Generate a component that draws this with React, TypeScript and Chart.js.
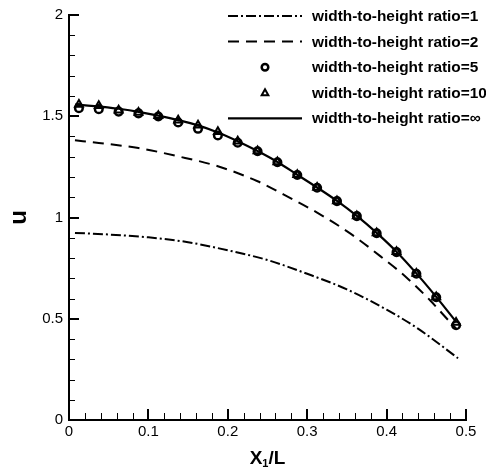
import React, { useEffect, useRef } from 'react';
import { Chart, registerables } from 'chart.js';

Chart.register(...registerables);

const FONT = '"Liberation Sans", Arial, Helvetica, sans-serif';

// Axis ticks
const xMajorStep = 0.1;
const xMinorStep = 0.02;
const yMajorStep = 0.5;
const yMinorStep = 0.1;
const xRange = [0, 0.5];
const yRange = [0, 2];

// Legend labels
const seriesLabels = [
  'width-to-height ratio=1',
  'width-to-height ratio=2',
  'width-to-height ratio=5',
  'width-to-height ratio=10',
  'width-to-height ratio=\u221E',
];

// ratio = 1 (dash-dot line)
const x1 = [0.0075, 0.05, 0.1, 0.15, 0.2, 0.25, 0.3, 0.35, 0.4, 0.44, 0.49];
const ratio1 = [0.924, 0.916, 0.902, 0.878, 0.838, 0.79, 0.722, 0.645, 0.545, 0.45, 0.305];

// ratio = 2 (dashed line)
const x2 = [0.0075, 0.0375, 0.0875, 0.1375, 0.1875, 0.2375, 0.27, 0.3125, 0.355, 0.395, 0.425, 0.455, 0.48, 0.4875];
const ratio2 = [1.381, 1.368, 1.343, 1.302, 1.253, 1.179, 1.114, 1.024, 0.919, 0.8, 0.704, 0.59, 0.483, 0.452];

// ratio = 5 (circles) and ratio = 10 (triangles)
const xMarkers = [0.0125, 0.0375, 0.0625, 0.0875, 0.1125, 0.1375, 0.1625, 0.1875, 0.2125, 0.2375,
  0.2625, 0.2875, 0.3125, 0.3375, 0.3625, 0.3875, 0.4125, 0.4375, 0.4625, 0.4875];
const ratio5 = [1.54, 1.535, 1.523, 1.514, 1.499, 1.469, 1.438, 1.405, 1.369, 1.327,
  1.273, 1.21, 1.147, 1.081, 1.007, 0.922, 0.829, 0.722, 0.606, 0.468];
const ratio10 = [1.558, 1.552, 1.53, 1.518, 1.502, 1.48, 1.456, 1.423, 1.377, 1.329,
  1.274, 1.211, 1.148, 1.082, 1.008, 0.924, 0.831, 0.724, 0.608, 0.482];

// ratio = infinity (solid line)
const xInf = [0.0075, 0.0125, 0.0375, 0.0625, 0.0875, 0.1125, 0.1375, 0.1625, 0.1875, 0.2125, 0.2375,
  0.2625, 0.2875, 0.3125, 0.3375, 0.3625, 0.3875, 0.4125, 0.4375, 0.4625, 0.4875];
const ratioInf = [1.558, 1.556, 1.549, 1.537, 1.522, 1.503, 1.481, 1.455, 1.42, 1.377, 1.328,
  1.274, 1.211, 1.148, 1.082, 1.008, 0.924, 0.831, 0.724, 0.608, 0.485];

const pts = (xs: number[], ys: number[]) => xs.map((x, i) => ({ x, y: ys[i] }));

const minorTicksPlugin = {
  id: 'minorTicks',
  afterDraw(chart: any) {
    const { ctx, chartArea } = chart;
    const xs = chart.scales.x;
    const ys = chart.scales.y;
    ctx.save();
    ctx.strokeStyle = '#000';
    const nY = Math.round((yRange[1] - yRange[0]) / yMinorStep);
    const perY = Math.round(yMajorStep / yMinorStep);
    for (let i = 0; i <= nY; i++) {
      const major = i % perY === 0;
      const py = Math.round(ys.getPixelForValue(yRange[0] + i * yMinorStep)) + (major ? 0 : 0.5);
      ctx.lineWidth = major ? 2 : 1;
      ctx.beginPath();
      ctx.moveTo(chartArea.left, py);
      ctx.lineTo(chartArea.left + (major ? 10 : 6), py);
      ctx.stroke();
    }
    const nX = Math.round((xRange[1] - xRange[0]) / xMinorStep);
    const perX = Math.round(xMajorStep / xMinorStep);
    for (let i = 0; i <= nX; i++) {
      const major = i % perX === 0;
      const px = Math.round(xs.getPixelForValue(xRange[0] + i * xMinorStep)) + (major ? 0 : 0.5);
      ctx.lineWidth = major ? 2 : 1;
      ctx.beginPath();
      ctx.moveTo(px, chartArea.bottom);
      ctx.lineTo(px, chartArea.bottom - (major ? 11 : 7));
      ctx.stroke();
    }
    ctx.restore();
  },
};

const xTitlePlugin = {
  id: 'xTitle',
  afterDraw(chart: any) {
    const { ctx, chartArea } = chart;
    ctx.save();
    ctx.fillStyle = '#000';
    ctx.textBaseline = 'alphabetic';
    ctx.textAlign = 'left';
    const big = `bold 19px ${FONT}`;
    const small = `bold 11px ${FONT}`;
    ctx.font = big;
    const wX = ctx.measureText('X').width;
    const wL = ctx.measureText('/L').width;
    ctx.font = small;
    const w1 = ctx.measureText('1').width;
    const total = wX + w1 + wL;
    const cx = (chartArea.left + chartArea.right) / 2;
    let x = cx - total / 2;
    const base = 464;
    ctx.font = big;
    ctx.fillText('X', x, base);
    x += wX;
    ctx.font = small;
    ctx.fillText('1', x, base + 3);
    x += w1;
    ctx.font = big;
    ctx.fillText('/L', x, base);
    ctx.restore();
  },
};

const legendPlugin = {
  id: 'customLegend',
  afterDraw(chart: any) {
    const { ctx } = chart;
    const lx0 = 228;
    const lx1 = 302;
    const tx = 312;
    const y0 = 16;
    const dy = 25.6;
    ctx.save();
    chart.data.datasets.forEach((ds: any, i: number) => {
      const y = y0 + i * dy;
      ctx.strokeStyle = '#000';
      if (ds.showLine !== false) {
        ctx.lineWidth = ds.borderWidth;
        ctx.setLineDash(ds.borderDash || []);
        ctx.beginPath();
        ctx.moveTo(lx0, y);
        ctx.lineTo(lx1, y);
        ctx.stroke();
        ctx.setLineDash([]);
      } else {
        const cx = (lx0 + lx1) / 2;
        ctx.lineWidth = ds.pointBorderWidth;
        ctx.beginPath();
        if (ds.pointStyle === 'triangle') {
          const r = 3.5;
          ctx.moveTo(cx, y - r);
          ctx.lineTo(cx + r * 0.95, y + r * 0.7);
          ctx.lineTo(cx - r * 0.95, y + r * 0.7);
          ctx.closePath();
        } else {
          ctx.arc(cx, y, 3.3, 0, Math.PI * 2);
        }
        ctx.stroke();
      }
      ctx.fillStyle = '#000';
      ctx.font = `bold 15.4px ${FONT}`;
      ctx.textAlign = 'left';
      ctx.textBaseline = 'middle';
      ctx.fillText(ds.label, tx, y + 0.8);
    });
    ctx.restore();
  },
};

export default function App() {
  const ref = useRef<HTMLCanvasElement | null>(null);

  useEffect(() => {
    if (!ref.current) return;
    const chart = new Chart(ref.current, {
      type: 'scatter',
      data: {
        datasets: [
          {
            label: seriesLabels[0],
            data: pts(x1, ratio1),
            showLine: true,
            borderColor: '#000',
            borderWidth: 2,
            borderDash: [10, 3, 2, 3],
            pointRadius: 0,
            cubicInterpolationMode: 'monotone',
          },
          {
            label: seriesLabels[1],
            data: pts(x2, ratio2),
            showLine: true,
            borderColor: '#000',
            borderWidth: 2,
            borderDash: [11, 7],
            pointRadius: 0,
            cubicInterpolationMode: 'monotone',
          },
          {
            label: seriesLabels[2],
            data: pts(xMarkers, ratio5),
            showLine: false,
            pointStyle: 'circle',
            pointRadius: 3.8,
            pointBorderWidth: 2.5,
            pointBorderColor: '#000',
            pointBackgroundColor: 'rgba(0,0,0,0)',
          },
          {
            label: seriesLabels[3],
            data: pts(xMarkers, ratio10),
            showLine: false,
            pointStyle: 'triangle',
            pointRadius: 4.5,
            pointBorderWidth: 2,
            pointBorderColor: '#000',
            pointBackgroundColor: 'rgba(0,0,0,0)',
          },
          {
            label: seriesLabels[4],
            data: pts(xInf, ratioInf),
            showLine: true,
            borderColor: '#000',
            borderWidth: 2.2,
            pointRadius: 0,
            cubicInterpolationMode: 'monotone',
          },
        ] as any,
      },
      options: {
        animation: false,
        responsive: false,
        events: [],
        layout: { padding: { left: 0, top: 13, right: 20, bottom: 0 } },
        plugins: {
          legend: { display: false },
          tooltip: { enabled: false },
          title: { display: false },
        },
        scales: {
          x: {
            type: 'linear',
            min: xRange[0],
            max: xRange[1],
            grid: { display: false, drawTicks: false, tickLength: 0 },
            border: { display: true, color: '#000', width: 2 },
            ticks: {
              stepSize: xMajorStep,
              color: '#000',
              padding: 3,
              autoSkip: false,
              maxRotation: 0,
              font: { family: FONT, size: 15 },
              callback: (v: any) => String(Math.round(Number(v) * 10) / 10),
            },
            afterFit: (s: any) => { s.height = 51; },
          },
          y: {
            type: 'linear',
            min: yRange[0],
            max: yRange[1],
            grid: { display: false, drawTicks: false, tickLength: 0 },
            border: { display: true, color: '#000', width: 2 },
            title: {
              display: true,
              text: 'u',
              color: '#000',
              font: { family: FONT, size: 24, weight: 'bold' },
              padding: { top: 5, bottom: 0 },
            },
            ticks: {
              stepSize: yMajorStep,
              color: '#000',
              padding: 6,
              autoSkip: false,
              font: { family: FONT, size: 15 },
              callback: (v: any) => String(Math.round(Number(v) * 10) / 10),
            },
            afterFit: (s: any) => { s.width = 69; },
          },
        },
      } as any,
      plugins: [minorTicksPlugin, xTitlePlugin, legendPlugin],
    });
    return () => chart.destroy();
  }, []);

  return (
    <div style={{ position: 'absolute', left: 0, top: 0, width: 486, height: 471, background: '#fff' }}>
      <canvas ref={ref} width={486} height={471} style={{ display: 'block', width: 486, height: 471 }} />
    </div>
  );
}
